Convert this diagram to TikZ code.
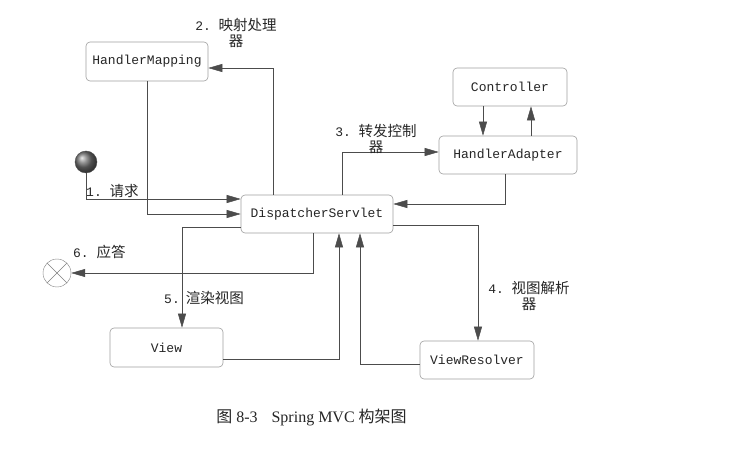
\documentclass[tikz,border=0pt]{standalone}
\usepackage{fontspec}
\setmainfont{Liberation Serif}
\setmonofont{Liberation Mono}
\newfontfamily\cjk{Noto Sans CJK SC}
\usetikzlibrary{arrows.meta}
\newcommand{\zh}[1]{{\cjk\fontsize{14.5}{16}\selectfont #1}}
\begin{document}
\begin{tikzpicture}[x=1pt,y=-1pt,
  box/.style={draw=gray!75, rounded corners=4pt, line width=0.6pt, font=\ttfamily\fontsize{13}{16}\selectfont, text=black!85, inner sep=0pt},
  ln/.style={draw=gray!60!black, line width=0.5pt},
  arr/.style={ln, -{Triangle[length=14pt,width=8pt]}},
  lab/.style={font=\ttfamily\fontsize{13}{16}\selectfont, text=black!85, align=center, inner sep=0pt}]
\useasboundingbox (0,0) rectangle (740,476);
\fill[white] (0,0) rectangle (740,476);
% boxes
\node[box, minimum width=122pt, minimum height=39pt] (HM) at (147,61.5) {HandlerMapping};
\node[box, minimum width=152pt, minimum height=38pt] (DS) at (317,214) {DispatcherServlet};
\node[box, minimum width=138pt, minimum height=38pt] (HA) at (508,155) {HandlerAdapter};
\node[box, minimum width=114pt, minimum height=38pt] (Ctrl) at (510,87) {Controller};
\node[box, minimum width=113pt, minimum height=39pt] (View) at (166.5,347.5) {View};
\node[box, minimum width=114pt, minimum height=38pt] (VR) at (477,360) {ViewResolver};
% start and end
\node[circle, draw=black!70, shading=ball, ball color=black!55, minimum size=22pt, inner sep=0pt] (start) at (86,162) {};
\node[circle, draw=gray, fill=white, minimum size=28pt, inner sep=0pt] (end) at (57,273) {};
\draw[gray, line width=0.5pt] (end.north east) -- (end.south west) (end.north west) -- (end.south east);
% connectors
\draw[arr] (start) |- (DS.west |- 0,199);
\draw[arr] (HM.south) |- (DS.west);
\draw[arr] (DS.north -| 273,0) |- (HM.east |- 0,68);
\draw[arr] (DS.north -| 342,0) |- (HA.west |- 0,152);
\draw[arr] (HA.south -| 505,0) |- (DS.east |- 0,204);
\draw[arr] (DS.east |- 0,225) -| (VR.north -| 478,0);
\draw[arr] (VR.west |- 0,364) -| (DS.south -| 360,0);
\draw[arr] (DS.west |- 0,227) -| (View.north -| 182,0);
\draw[arr] (View.east |- 0,359) -| (DS.south -| 339,0);
\draw[arr] (DS.south -| 313,0) |- (end);
\draw[arr] (Ctrl.south -| 483,0) -- (HA.north -| 483,0);
\draw[arr] (HA.north -| 531,0) -- (Ctrl.south -| 531,0);
% labels
\node[lab] (l2) at (236,32.5) {2. \zh{映射处理}\\\zh{器}};
\node[lab] (l3) at (376,139) {3. \zh{转发控制}\\\zh{器}};
\node[lab] (l4) at (529,296) {4. \zh{视图解析}\\\zh{器}};
\node[lab, anchor=west] (l1) at (86,191) {1. \zh{请求}};
\node[lab, anchor=west] (l6) at (73,252) {6. \zh{应答}};
\node[lab, anchor=west] (l5) at (164,298) {5.\hspace{6pt}\zh{渲染视图}};
\node[font=\fontsize{16}{18}\selectfont, text=black!85, inner sep=0pt] (cap) at (311.5,418) {{\cjk 图} 8-3\hspace{14pt}Spring MVC {\cjk 构架图}};
\end{tikzpicture}
\end{document}
